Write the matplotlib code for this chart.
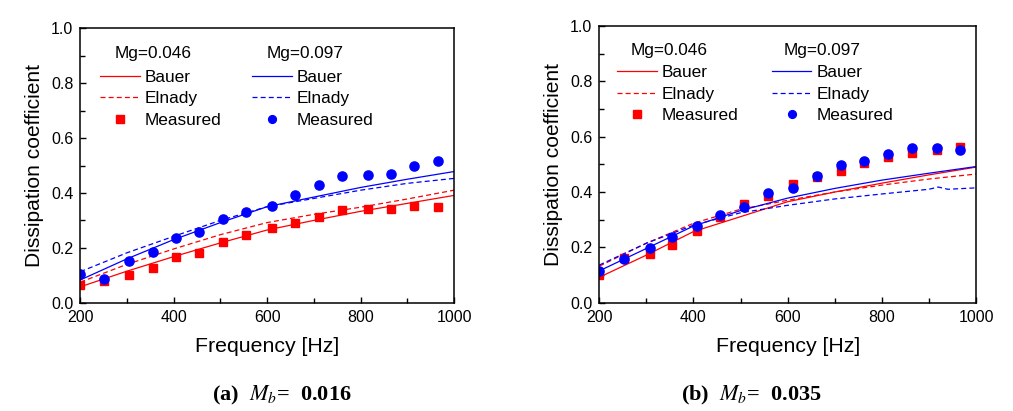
import matplotlib
matplotlib.use("Agg")
import matplotlib.pyplot as plt
from matplotlib.lines import Line2D

plt.rcParams['font.family'] = ['Liberation Sans', 'DejaVu Sans']
plt.rcParams['mathtext.fontset'] = 'stix'

# ---------------- data ----------------
meas_f_a = [200, 250, 305, 355, 405, 455, 505, 555, 610, 660, 710, 760, 815, 865, 915, 965]
meas_a_mg046 = [0.064, 0.079, 0.101, 0.125, 0.168, 0.182, 0.222, 0.246, 0.272, 0.289, 0.313, 0.337, 0.342, 0.342, 0.353, 0.348]
meas_a_mg097 = [0.104, 0.085, 0.153, 0.183, 0.235, 0.259, 0.306, 0.330, 0.354, 0.394, 0.430, 0.462, 0.467, 0.470, 0.497, 0.515]

model_f = [200, 300, 400, 500, 600, 700, 800, 900, 1000]
bauer_a_mg046 = [0.058, 0.115, 0.168, 0.218, 0.265, 0.300, 0.333, 0.362, 0.391]
elnady_a_mg046 = [0.075, 0.140, 0.196, 0.248, 0.292, 0.322, 0.348, 0.378, 0.410]
bauer_a_mg097 = [0.083, 0.160, 0.230, 0.292, 0.350, 0.385, 0.420, 0.450, 0.478]
elnady_a_mg097 = [0.113, 0.182, 0.242, 0.300, 0.350, 0.380, 0.410, 0.435, 0.453]

meas_f_b = [200, 252, 307, 355, 407, 456, 508, 559, 612, 662, 714, 763, 814, 863, 918, 967]
meas_b_mg046 = [0.100, 0.160, 0.176, 0.208, 0.260, 0.311, 0.357, 0.387, 0.429, 0.455, 0.477, 0.505, 0.525, 0.542, 0.552, 0.564]
meas_b_mg097 = [0.116, 0.157, 0.198, 0.237, 0.276, 0.318, 0.345, 0.398, 0.414, 0.459, 0.499, 0.511, 0.539, 0.558, 0.560, 0.553]

bauer_b_mg046 = [0.092, 0.172, 0.257, 0.311, 0.365, 0.400, 0.432, 0.462, 0.490]
elnady_b_mg046 = [0.132, 0.215, 0.287, 0.338, 0.370, 0.400, 0.425, 0.447, 0.465]
bauer_b_mg097 = [0.115, 0.196, 0.277, 0.333, 0.378, 0.413, 0.443, 0.468, 0.492]
elnady_b_f = [200, 300, 400, 500, 600, 700, 800, 900, 920, 940, 1000]
elnady_b_mg097 = [0.136, 0.215, 0.280, 0.325, 0.352, 0.375, 0.393, 0.410, 0.418, 0.410, 0.415]

xticks = [200, 400, 600, 800, 1000]
yticks = [0.0, 0.2, 0.4, 0.6, 0.8, 1.0]
group_titles = ["Mg=0.046", "Mg=0.097"]
legend_labels = ["Bauer", "Elnady", "Measured"]
captions = [r"(a)  $M_b$=  0.016", r"(b)  $M_b$=  0.035"]

RED = '#ff0000'
BLUE = '#0000ff'

fig = plt.figure(figsize=(10.13, 4.11), dpi=100)
ax_a = fig.add_axes([0.0793, 0.2635, 0.3689, 0.6676])
ax_b = fig.add_axes([0.5916, 0.2635, 0.3719, 0.6732])

panels = [
    dict(ax=ax_a, mf=meas_f_a, m46=meas_a_mg046, m97=meas_a_mg097, f=model_f,
         b46=bauer_a_mg046, e46=elnady_a_mg046, b97=bauer_a_mg097, ef97=model_f,
         e97=elnady_a_mg097,
         leg=[(0.053, 0.849), (0.46, 0.849)], tit=[(0.196, 0.910), (0.601, 0.910)],
         tpad=0.3),
    dict(ax=ax_b, mf=meas_f_b, m46=meas_b_mg046, m97=meas_b_mg097, f=model_f,
         b46=bauer_b_mg046, e46=elnady_b_mg046, b97=bauer_b_mg097, ef97=elnady_b_f,
         e97=elnady_b_mg097,
         leg=[(0.047, 0.859), (0.458, 0.859)], tit=[(0.186, 0.913), (0.591, 0.913)],
         tpad=0.3),
]

DASH = (0, (4, 2.5))
for p in panels:
    ax = p['ax']
    ax.plot(p['f'], p['b46'], color=RED, lw=0.9)
    ax.plot(p['f'], p['e46'], color=RED, lw=0.9, ls=DASH)
    ax.plot(p['f'], p['b97'], color=BLUE, lw=0.9)
    ax.plot(p['ef97'], p['e97'], color=BLUE, lw=0.9, ls=DASH)
    ax.plot(p['mf'], p['m46'], ls='none', marker='s', ms=5.6, color=RED, mec=RED)
    ax.plot(p['mf'], p['m97'], ls='none', marker='o', ms=6.6, color=BLUE, mec=BLUE)

    ax.set_xlim(200, 1000)
    ax.set_ylim(0, 1.0)
    ax.set_xticks(xticks)
    ax.set_xticks([300, 500, 700, 900], minor=True)
    ax.set_yticks(yticks)
    ax.set_yticks([0.1, 0.3, 0.5, 0.7, 0.9], minor=True)
    ax.set_yticklabels([f"{v:.1f}" for v in yticks])
    ax.tick_params(which='both', direction='in', labelsize=11.5, pad=5, width=1)
    ax.tick_params(which='major', length=4.5)
    ax.tick_params(which='minor', length=3.5)
    for s in ax.spines.values():
        s.set_linewidth(1.1)
    ax.set_xlabel("Frequency [Hz]", fontsize=15.3, labelpad=9)
    ax.set_ylabel("Dissipation coefficient", fontsize=15.1, labelpad=5)

    h46 = [Line2D([], [], color=RED, lw=0.9),
           Line2D([], [], color=RED, lw=0.9, ls=DASH),
           Line2D([], [], ls='none', marker='s', ms=5.2, color=RED)]
    h97 = [Line2D([], [], color=BLUE, lw=0.9),
           Line2D([], [], color=BLUE, lw=0.9, ls=DASH),
           Line2D([], [], ls='none', marker='o', ms=5.6, color=BLUE)]
    kw = dict(frameon=False, fontsize=12.4, borderpad=0, borderaxespad=0,
              handlelength=2.3, handletextpad=p['tpad'], labelspacing=0.38,
              loc='upper left', numpoints=1)
    l1 = ax.legend(h46, legend_labels, bbox_to_anchor=p['leg'][0], **kw)
    ax.add_artist(l1)
    ax.legend(h97, legend_labels, bbox_to_anchor=p['leg'][1], **kw)
    for t, pos in zip(group_titles, p['tit']):
        ax.text(pos[0], pos[1], t, transform=ax.transAxes, ha='center', va='center',
                fontsize=12.4)

fig.text(0.278, 0.038, captions[0], ha='center', va='center', fontsize=16,
         fontweight='bold', family='Liberation Serif')
fig.text(0.742, 0.038, captions[1], ha='center', va='center', fontsize=16,
         fontweight='bold', family='Liberation Serif')

fig.savefig("out.png", dpi=100)
